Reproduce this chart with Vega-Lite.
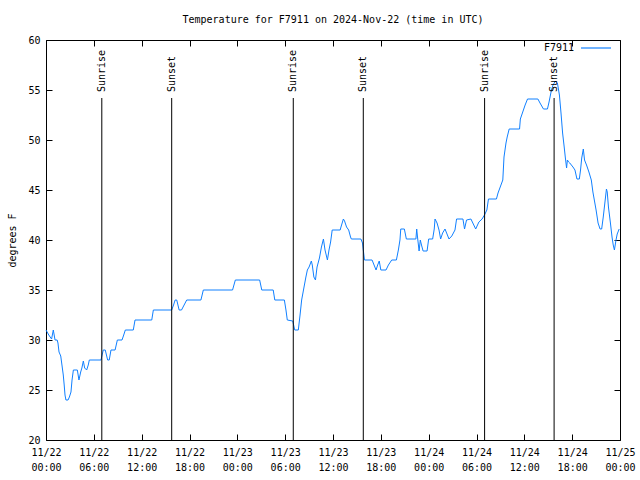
{
  "$schema": "https://vega.github.io/schema/vega-lite/v6.json",
  "width": 574,
  "height": 400,
  "autosize": {"type": "none"},
  "padding": {"left": 46, "top": 40, "right": 20, "bottom": 40},
  "background": "white",
  "config": {
    "font": "DejaVu Sans Mono",
    "view": {"stroke": "black", "strokeWidth": 1},
    "axis": {"labelFont": "DejaVu Sans Mono", "labelFontSize": 10, "labelColor": "black", "titleFont": "DejaVu Sans Mono", "titleFontSize": 10, "titleFontWeight": "normal", "titleColor": "black", "domainColor": "black", "tickColor": "black", "grid": false}
  },
  "title": {"text": "Temperature for F7911 on 2024-Nov-22 (time in UTC)", "font": "DejaVu Sans Mono", "fontSize": 10, "fontWeight": "normal", "anchor": "middle", "offset": 7, "color": "black"},
  "datasets": {
    "temp": [
      {"t": "2024-11-22T00:00:00Z", "v": 31}, {"t": "2024-11-22T00:21:00Z", "v": 30.5}, {"t": "2024-11-22T00:42:00Z", "v": 30.1}, {"t": "2024-11-22T00:55:00Z", "v": 31}, {"t": "2024-11-22T01:08:00Z", "v": 30}, {"t": "2024-11-22T01:24:00Z", "v": 30}, {"t": "2024-11-22T01:30:00Z", "v": 29.7}, {"t": "2024-11-22T01:38:00Z", "v": 28.8}, {"t": "2024-11-22T01:51:00Z", "v": 28.4}, {"t": "2024-11-22T02:00:00Z", "v": 27.5}, {"t": "2024-11-22T02:10:00Z", "v": 26.5}, {"t": "2024-11-22T02:17:00Z", "v": 25.5}, {"t": "2024-11-22T02:23:00Z", "v": 24.5}, {"t": "2024-11-22T02:30:00Z", "v": 24}, {"t": "2024-11-22T02:46:00Z", "v": 24}, {"t": "2024-11-22T02:56:00Z", "v": 24.3}, {"t": "2024-11-22T03:08:00Z", "v": 24.8}, {"t": "2024-11-22T03:16:00Z", "v": 26}, {"t": "2024-11-22T03:26:00Z", "v": 27}, {"t": "2024-11-22T03:56:00Z", "v": 27}, {"t": "2024-11-22T04:08:00Z", "v": 26}, {"t": "2024-11-22T04:21:00Z", "v": 26.8}, {"t": "2024-11-22T04:30:00Z", "v": 27.2}, {"t": "2024-11-22T04:41:00Z", "v": 27.9}, {"t": "2024-11-22T04:51:00Z", "v": 27.2}, {"t": "2024-11-22T05:06:00Z", "v": 27}, {"t": "2024-11-22T05:18:00Z", "v": 27.5}, {"t": "2024-11-22T05:26:00Z", "v": 28}, {"t": "2024-11-22T06:54:00Z", "v": 28}, {"t": "2024-11-22T07:04:00Z", "v": 28.6}, {"t": "2024-11-22T07:11:00Z", "v": 29}, {"t": "2024-11-22T07:26:00Z", "v": 29}, {"t": "2024-11-22T07:44:00Z", "v": 28}, {"t": "2024-11-22T07:56:00Z", "v": 28}, {"t": "2024-11-22T08:09:00Z", "v": 29}, {"t": "2024-11-22T08:40:00Z", "v": 29}, {"t": "2024-11-22T08:57:00Z", "v": 30}, {"t": "2024-11-22T09:32:00Z", "v": 30}, {"t": "2024-11-22T09:45:00Z", "v": 30.5}, {"t": "2024-11-22T09:57:00Z", "v": 31}, {"t": "2024-11-22T10:57:00Z", "v": 31}, {"t": "2024-11-22T11:10:00Z", "v": 32}, {"t": "2024-11-22T13:16:00Z", "v": 32}, {"t": "2024-11-22T13:28:00Z", "v": 33}, {"t": "2024-11-22T15:46:00Z", "v": 33}, {"t": "2024-11-22T16:00:00Z", "v": 33.5}, {"t": "2024-11-22T16:12:00Z", "v": 34}, {"t": "2024-11-22T16:24:00Z", "v": 34}, {"t": "2024-11-22T16:42:00Z", "v": 33}, {"t": "2024-11-22T17:00:00Z", "v": 33}, {"t": "2024-11-22T17:39:00Z", "v": 34}, {"t": "2024-11-22T19:26:00Z", "v": 34}, {"t": "2024-11-22T19:44:00Z", "v": 35}, {"t": "2024-11-22T23:24:00Z", "v": 35}, {"t": "2024-11-22T23:45:00Z", "v": 36}, {"t": "2024-11-23T02:48:00Z", "v": 36}, {"t": "2024-11-23T03:04:00Z", "v": 35}, {"t": "2024-11-23T04:30:00Z", "v": 35}, {"t": "2024-11-23T04:42:00Z", "v": 34}, {"t": "2024-11-23T05:54:00Z", "v": 34}, {"t": "2024-11-23T06:06:00Z", "v": 33}, {"t": "2024-11-23T06:16:00Z", "v": 32}, {"t": "2024-11-23T06:57:00Z", "v": 31.9}, {"t": "2024-11-23T07:12:00Z", "v": 31}, {"t": "2024-11-23T07:39:00Z", "v": 31}, {"t": "2024-11-23T07:52:00Z", "v": 32.5}, {"t": "2024-11-23T08:04:00Z", "v": 34}, {"t": "2024-11-23T08:22:00Z", "v": 35.3}, {"t": "2024-11-23T08:36:00Z", "v": 36.3}, {"t": "2024-11-23T08:47:00Z", "v": 37}, {"t": "2024-11-23T09:00:00Z", "v": 37.3}, {"t": "2024-11-23T09:17:00Z", "v": 37.9}, {"t": "2024-11-23T09:24:00Z", "v": 37.5}, {"t": "2024-11-23T09:36:00Z", "v": 36.3}, {"t": "2024-11-23T09:48:00Z", "v": 36}, {"t": "2024-11-23T10:00:00Z", "v": 37.3}, {"t": "2024-11-23T10:18:00Z", "v": 38.2}, {"t": "2024-11-23T10:33:00Z", "v": 39.3}, {"t": "2024-11-23T10:48:00Z", "v": 40.1}, {"t": "2024-11-23T11:00:00Z", "v": 39}, {"t": "2024-11-23T11:18:00Z", "v": 38}, {"t": "2024-11-23T11:30:00Z", "v": 39}, {"t": "2024-11-23T11:42:00Z", "v": 39.8}, {"t": "2024-11-23T11:54:00Z", "v": 41}, {"t": "2024-11-23T12:54:00Z", "v": 41}, {"t": "2024-11-23T13:00:00Z", "v": 41.3}, {"t": "2024-11-23T13:18:00Z", "v": 42.1}, {"t": "2024-11-23T13:27:00Z", "v": 41.9}, {"t": "2024-11-23T13:42:00Z", "v": 41.3}, {"t": "2024-11-23T13:58:00Z", "v": 41}, {"t": "2024-11-23T14:12:00Z", "v": 40.3}, {"t": "2024-11-23T14:18:00Z", "v": 40.1}, {"t": "2024-11-23T15:30:00Z", "v": 40.1}, {"t": "2024-11-23T15:42:00Z", "v": 39.7}, {"t": "2024-11-23T15:48:00Z", "v": 39}, {"t": "2024-11-23T15:57:00Z", "v": 38}, {"t": "2024-11-23T16:54:00Z", "v": 38}, {"t": "2024-11-23T17:18:00Z", "v": 37.2}, {"t": "2024-11-23T17:24:00Z", "v": 37}, {"t": "2024-11-23T17:36:00Z", "v": 37.5}, {"t": "2024-11-23T17:48:00Z", "v": 37.9}, {"t": "2024-11-23T18:00:00Z", "v": 37}, {"t": "2024-11-23T18:39:00Z", "v": 37}, {"t": "2024-11-23T18:57:00Z", "v": 37.5}, {"t": "2024-11-23T19:22:00Z", "v": 38}, {"t": "2024-11-23T19:57:00Z", "v": 38}, {"t": "2024-11-23T20:12:00Z", "v": 39}, {"t": "2024-11-23T20:24:00Z", "v": 40}, {"t": "2024-11-23T20:30:00Z", "v": 41.1}, {"t": "2024-11-23T20:57:00Z", "v": 41.1}, {"t": "2024-11-23T21:12:00Z", "v": 40.1}, {"t": "2024-11-23T22:24:00Z", "v": 40.1}, {"t": "2024-11-23T22:30:00Z", "v": 41.1}, {"t": "2024-11-23T22:36:00Z", "v": 40.3}, {"t": "2024-11-23T22:48:00Z", "v": 38.9}, {"t": "2024-11-23T22:57:00Z", "v": 40}, {"t": "2024-11-23T23:06:00Z", "v": 39.5}, {"t": "2024-11-23T23:18:00Z", "v": 38.9}, {"t": "2024-11-23T23:48:00Z", "v": 38.9}, {"t": "2024-11-24T00:00:00Z", "v": 40.1}, {"t": "2024-11-24T00:30:00Z", "v": 40.1}, {"t": "2024-11-24T00:42:00Z", "v": 41.1}, {"t": "2024-11-24T00:48:00Z", "v": 42.1}, {"t": "2024-11-24T01:03:00Z", "v": 41.7}, {"t": "2024-11-24T01:18:00Z", "v": 41}, {"t": "2024-11-24T01:30:00Z", "v": 40.1}, {"t": "2024-11-24T01:45:00Z", "v": 40.7}, {"t": "2024-11-24T02:03:00Z", "v": 41.1}, {"t": "2024-11-24T02:15:00Z", "v": 40.7}, {"t": "2024-11-24T02:33:00Z", "v": 40.1}, {"t": "2024-11-24T02:54:00Z", "v": 40.4}, {"t": "2024-11-24T03:18:00Z", "v": 41}, {"t": "2024-11-24T03:30:00Z", "v": 42.1}, {"t": "2024-11-24T04:18:00Z", "v": 42.1}, {"t": "2024-11-24T04:30:00Z", "v": 41.1}, {"t": "2024-11-24T04:45:00Z", "v": 42}, {"t": "2024-11-24T05:18:00Z", "v": 42.1}, {"t": "2024-11-24T05:36:00Z", "v": 41.6}, {"t": "2024-11-24T05:54:00Z", "v": 41.1}, {"t": "2024-11-24T06:18:00Z", "v": 41.8}, {"t": "2024-11-24T06:42:00Z", "v": 42.1}, {"t": "2024-11-24T07:00:00Z", "v": 42.5}, {"t": "2024-11-24T07:18:00Z", "v": 43}, {"t": "2024-11-24T07:30:00Z", "v": 44.1}, {"t": "2024-11-24T08:30:00Z", "v": 44.1}, {"t": "2024-11-24T08:42:00Z", "v": 44.7}, {"t": "2024-11-24T09:18:00Z", "v": 46}, {"t": "2024-11-24T09:27:00Z", "v": 48.3}, {"t": "2024-11-24T09:42:00Z", "v": 49.7}, {"t": "2024-11-24T09:51:00Z", "v": 50.3}, {"t": "2024-11-24T10:06:00Z", "v": 51.1}, {"t": "2024-11-24T11:24:00Z", "v": 51.1}, {"t": "2024-11-24T11:30:00Z", "v": 52.1}, {"t": "2024-11-24T11:48:00Z", "v": 52.8}, {"t": "2024-11-24T12:06:00Z", "v": 53.5}, {"t": "2024-11-24T12:24:00Z", "v": 54.1}, {"t": "2024-11-24T13:42:00Z", "v": 54.1}, {"t": "2024-11-24T13:58:00Z", "v": 53.7}, {"t": "2024-11-24T14:24:00Z", "v": 53.1}, {"t": "2024-11-24T14:54:00Z", "v": 53.1}, {"t": "2024-11-24T15:06:00Z", "v": 53.8}, {"t": "2024-11-24T15:24:00Z", "v": 55}, {"t": "2024-11-24T15:36:00Z", "v": 55.5}, {"t": "2024-11-24T15:54:00Z", "v": 55.9}, {"t": "2024-11-24T16:09:00Z", "v": 55.7}, {"t": "2024-11-24T16:24:00Z", "v": 54.5}, {"t": "2024-11-24T16:36:00Z", "v": 52.7}, {"t": "2024-11-24T16:48:00Z", "v": 50.7}, {"t": "2024-11-24T17:00:00Z", "v": 49.3}, {"t": "2024-11-24T17:09:00Z", "v": 48.2}, {"t": "2024-11-24T17:18:00Z", "v": 47.2}, {"t": "2024-11-24T17:24:00Z", "v": 48}, {"t": "2024-11-24T17:33:00Z", "v": 47.8}, {"t": "2024-11-24T17:42:00Z", "v": 47.7}, {"t": "2024-11-24T18:06:00Z", "v": 47.3}, {"t": "2024-11-24T18:21:00Z", "v": 47}, {"t": "2024-11-24T18:36:00Z", "v": 46.1}, {"t": "2024-11-24T18:54:00Z", "v": 46.1}, {"t": "2024-11-24T19:03:00Z", "v": 47}, {"t": "2024-11-24T19:12:00Z", "v": 48.2}, {"t": "2024-11-24T19:24:00Z", "v": 49.1}, {"t": "2024-11-24T19:33:00Z", "v": 48}, {"t": "2024-11-24T19:48:00Z", "v": 47.5}, {"t": "2024-11-24T20:06:00Z", "v": 46.8}, {"t": "2024-11-24T20:24:00Z", "v": 46}, {"t": "2024-11-24T20:36:00Z", "v": 44.8}, {"t": "2024-11-24T21:00:00Z", "v": 43}, {"t": "2024-11-24T21:15:00Z", "v": 41.7}, {"t": "2024-11-24T21:30:00Z", "v": 41.1}, {"t": "2024-11-24T21:42:00Z", "v": 41.1}, {"t": "2024-11-24T21:54:00Z", "v": 42.3}, {"t": "2024-11-24T22:06:00Z", "v": 43.7}, {"t": "2024-11-24T22:18:00Z", "v": 45.1}, {"t": "2024-11-24T22:24:00Z", "v": 44.8}, {"t": "2024-11-24T22:33:00Z", "v": 43.3}, {"t": "2024-11-24T22:48:00Z", "v": 41.7}, {"t": "2024-11-24T23:00:00Z", "v": 40.3}, {"t": "2024-11-24T23:09:00Z", "v": 39.5}, {"t": "2024-11-24T23:18:00Z", "v": 39}, {"t": "2024-11-24T23:30:00Z", "v": 40}, {"t": "2024-11-24T23:39:00Z", "v": 40.6}, {"t": "2024-11-24T23:54:00Z", "v": 41.1}
    ],
    "sun": [
      {"t": "2024-11-22T07:00:00Z", "label": "Sunrise"},
      {"t": "2024-11-22T15:46:00Z", "label": "Sunset"},
      {"t": "2024-11-23T07:01:00Z", "label": "Sunrise"},
      {"t": "2024-11-23T15:48:00Z", "label": "Sunset"},
      {"t": "2024-11-24T07:01:00Z", "label": "Sunrise"},
      {"t": "2024-11-24T15:44:00Z", "label": "Sunset"}
    ]
  },
  "layer": [
    {
      "data": {"name": "temp"},
      "mark": {"type": "line", "strokeWidth": 1},
      "encoding": {
        "x": {"field": "t", "type": "temporal",
          "scale": {"type": "utc", "domain": [{"year": 2024, "month": 11, "date": 22, "hours": 0, "utc": true}, {"year": 2024, "month": 11, "date": 25, "hours": 0, "utc": true}], "nice": false},
          "axis": {"orient": "bottom", "title": null, "tickCount": 12,
            "labelExpr": "[utcFormat(datum.value, '%m/%d'), utcFormat(datum.value, '%H:%M')]",
            "tickSize": -6,
            "labelPadding": 13, "labelLineHeight": 15, "labelBaseline": "top", "labelFlush": false, "labelOverlap": false, "domain": false}},
        "y": {"field": "v", "type": "quantitative",
          "scale": {"domain": [20, 60], "nice": false, "zero": false},
          "axis": {"orient": "left", "title": "degrees F", "values": [20, 25, 30, 35, 40, 45, 50, 55, 60], "tickSize": -6, "labelPadding": 12, "titlePadding": 10, "domain": false}},
        "color": {"datum": "F7911", "type": "nominal", "scale": {"range": ["#1080ff"]},
          "legend": {"title": null, "orient": "none", "legendX": 534, "legendY": -8, "symbolType": "stroke", "symbolSize": 900, "symbolStrokeWidth": 1.2, "labelAlign": "right", "labelOffset": -38, "labelFont": "DejaVu Sans Mono", "labelFontSize": 10, "labelColor": "black"}}
      }
    },
    {
      "data": {"name": "sun"},
      "mark": {"type": "rule", "color": "black", "strokeWidth": 1},
      "encoding": {
        "x": {"field": "t", "type": "temporal",
          "axis": {"orient": "top", "title": null, "labels": false, "tickCount": 12, "tickSize": -6, "domain": false}},
        "y": {"datum": 54.2, "type": "quantitative",
          "axis": {"orient": "right", "title": null, "labels": false, "values": [20, 25, 30, 35, 40, 45, 50, 55, 60], "tickSize": -6, "domain": false}},
        "y2": {"datum": 20}
      }
    },
    {
      "data": {"name": "sun"},
      "mark": {"type": "text", "angle": 270, "align": "left", "baseline": "middle", "font": "DejaVu Sans Mono", "fontSize": 10, "color": "black"},
      "encoding": {
        "x": {"field": "t", "type": "temporal", "axis": null},
        "y": {"datum": 54.8, "type": "quantitative", "axis": null},
        "text": {"field": "label"}
      }
    }
  ],
  "resolve": {"axis": {"x": "independent", "y": "independent"}}
}
